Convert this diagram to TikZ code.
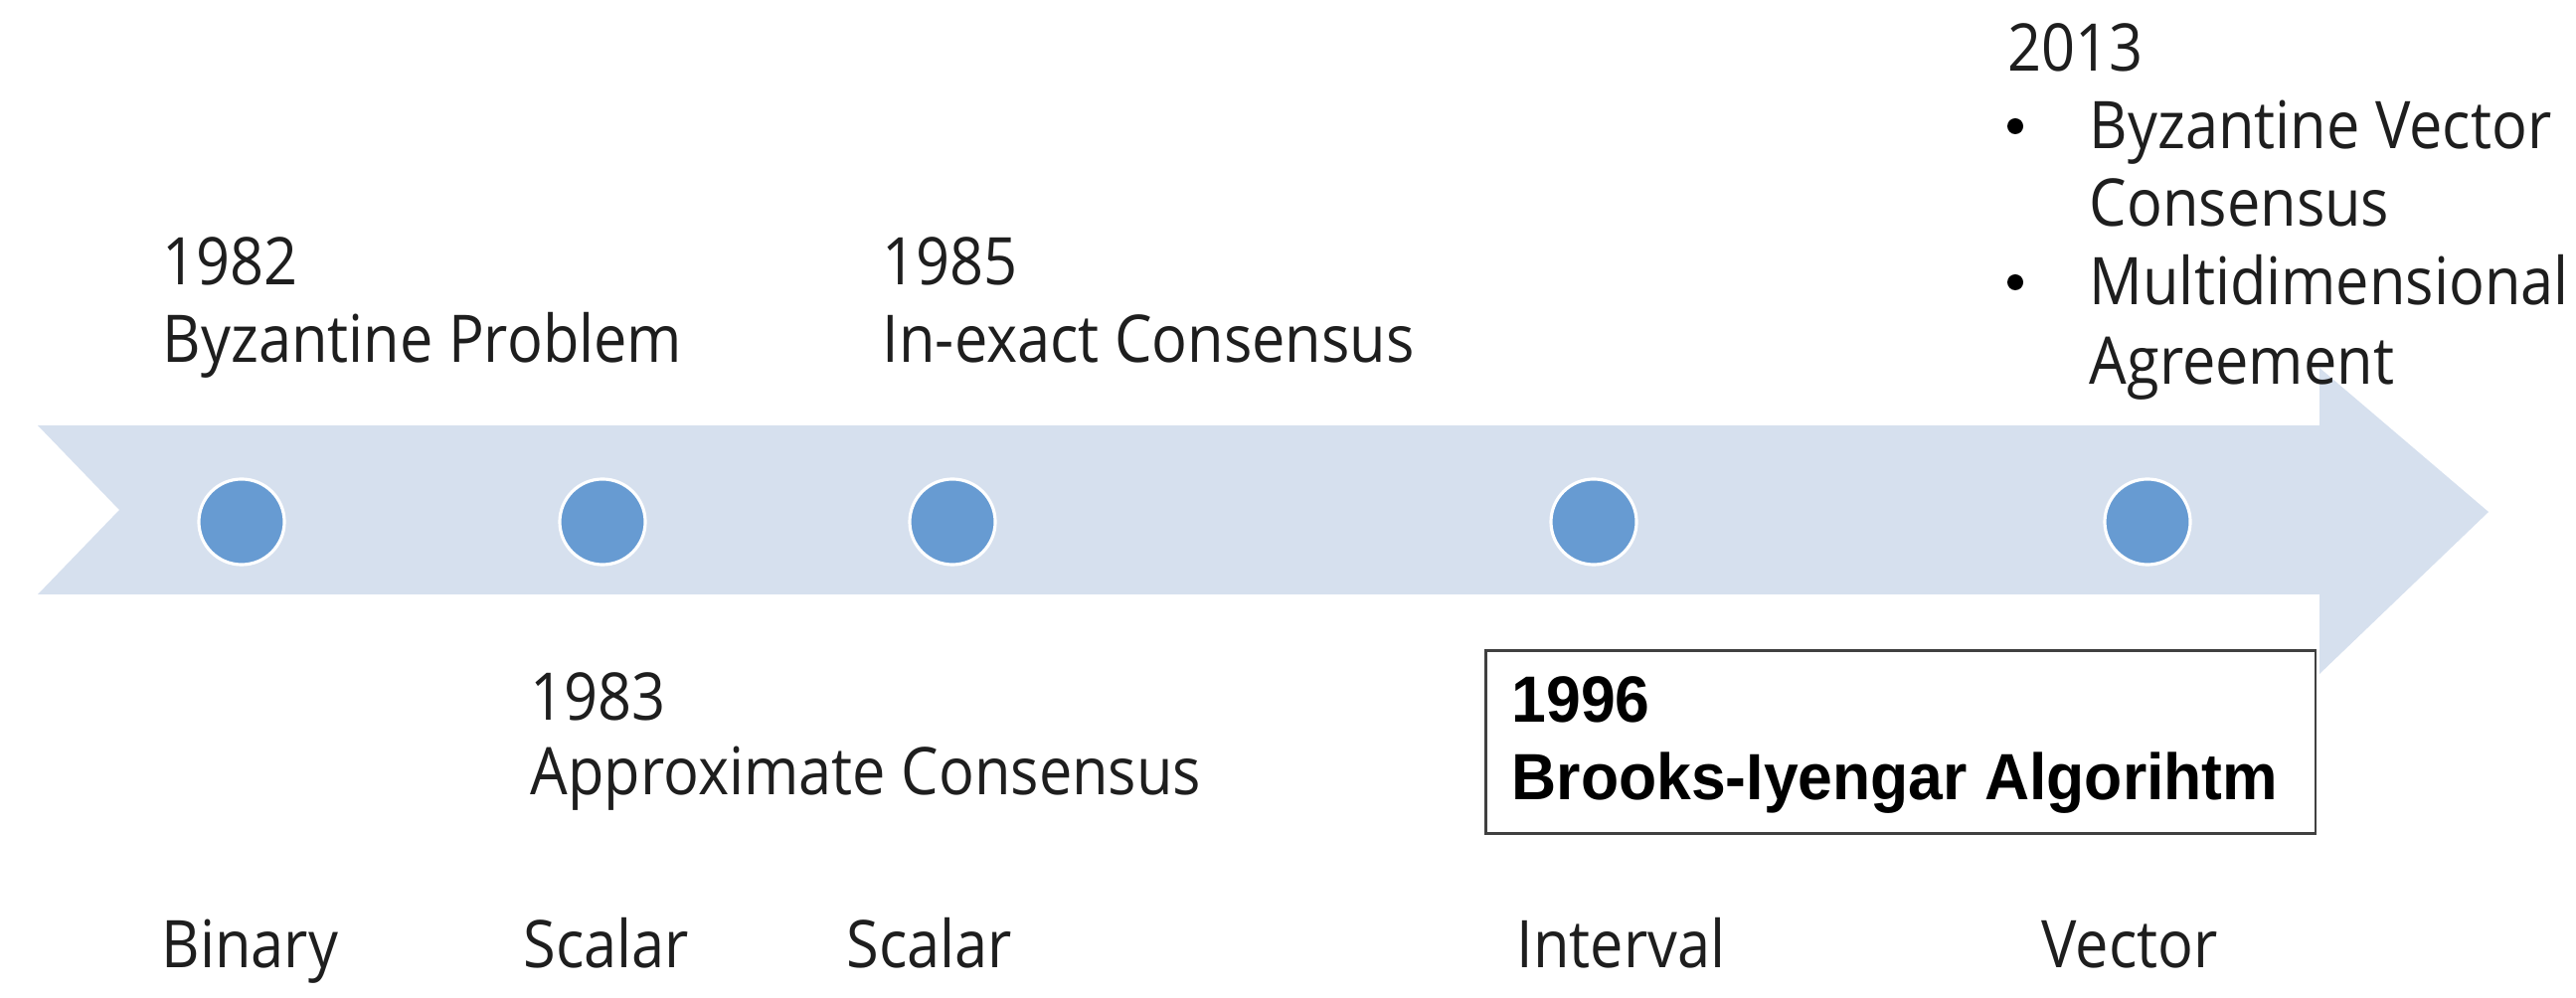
\documentclass[tikz,border=0pt]{standalone}
\usepackage{fontspec}
\setmainfont{Open Sans}[FakeStretch=0.9]
\newfontfamily\boxfont{Liberation Sans}[FakeStretch=0.95]
\definecolor{arrowfill}{RGB}{214,224,238}
\definecolor{dotfill}{RGB}{103,155,210}
\definecolor{txt}{RGB}{30,30,30}
\definecolor{boxline}{RGB}{64,64,64}
\begin{document}
\begin{tikzpicture}[x=0.01cm,y=-0.01cm,
  lbl/.style={anchor=base west, inner sep=0pt, text=txt, font=\fontsize{18.8pt}{22pt}\selectfont},
  boxlbl/.style={anchor=base west, inner sep=0pt, text=black, font=\boxfont\bfseries\fontsize{18.7pt}{22pt}\selectfont},
  dot/.style={circle, fill=dotfill, draw=white, line width=0.9pt, minimum size=0.86cm, inner sep=0pt},
  bullet/.style={circle, fill=black, minimum size=0.16cm, inner sep=0pt},
  yearbox/.style={rectangle, draw=boxline, line width=0.8pt, fill=white, anchor=north west, minimum width=8.34cm, minimum height=1.84cm, inner sep=0pt}
]
\useasboundingbox (0,0) rectangle (2591,1004);
% timeline arrow
\fill[arrowfill] (38,428) -- (2333,428) -- (2333,370) -- (2503,515) -- (2333,678) -- (2333,598) -- (38,598) -- (120,513) -- cycle;
% dots
\node[dot] (d1) at (243,525) {};
\node[dot] (d2) at (606,525) {};
\node[dot] (d3) at (958,525) {};
\node[dot] (d4) at (1603,525) {};
\node[dot] (d5) at (2160,525) {};
% labels above
\node[lbl] (y1982) at (163,287) {1982};
\node[lbl] (t1982) at (163,365) {Byzantine Problem};
\node[lbl] (y1985) at (887,287) {1985};
\node[lbl] (t1985) at (887,365) {In-exact Consensus};
\node[lbl] (y1983) at (533,725) {1983};
\node[lbl] (t1983) at (533,800) {Approximate Consensus};
% 2013 block
\node[lbl] (y2013) at (2019,72) {2013};
\node[bullet] (b1) at (2027,127) {};
\node[lbl] (t2013a) at (2101,150) {Byzantine Vector};
\node[lbl] (t2013b) at (2101,228) {Consensus};
\node[bullet] (b2) at (2027,284) {};
\node[lbl] (t2013c) at (2101,307) {Multidimensional};
\node[lbl] (t2013d) at (2101,387) {Agreement};
% 1996 box
\node[yearbox] (box) at (1493,653) {};
\node[boxlbl] (y1996) at (1520,727) {1996};
\node[boxlbl] (t1996) at (1520,805) {Brooks-Iyengar Algorihtm};
% bottom labels
\node[lbl] (c1) at (162,973) {Binary};
\node[lbl] (c2) at (526,973) {Scalar};
\node[lbl] (c3) at (851,973) {Scalar};
\node[lbl] (c4) at (1525,973) {Interval};
\node[lbl] (c5) at (2053,973) {Vector};
\end{tikzpicture}
\end{document}
